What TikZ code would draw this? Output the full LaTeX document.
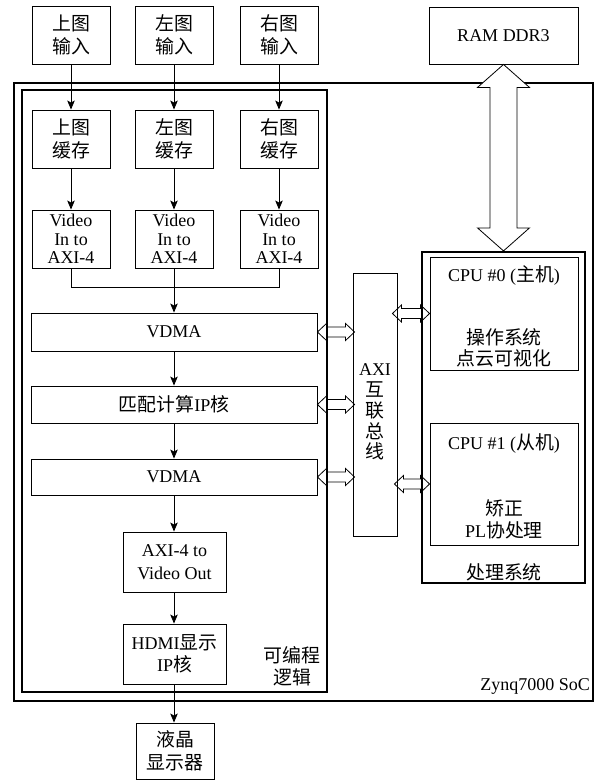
\documentclass[tikz,border=0pt]{standalone}
\usepackage{fontspec}
\setmainfont{Liberation Serif}
\newfontfamily\zhfont{Noto Sans CJK SC}[Scale=1.05]
\newcommand\zh[1]{{\zhfont #1}}
\usetikzlibrary{arrows.meta,calc}
\tikzset{
  box/.style={draw, line width=0.9pt, inner sep=0pt, align=center,
    font=\fontsize{18}{22.5}\selectfont},
  bigbox/.style={draw, line width=2.2pt, inner sep=0pt},
  lbl/.style={inner sep=0pt, align=center, font=\fontsize{18}{22}\selectfont},
  arr/.style={line width=0.9pt, -{Stealth[length=9pt,width=7.5pt,inset=2pt]}},
  conn/.style={line width=0.9pt},
  dblstyle/.style={line width=0.8pt, line join=miter},
}
% left tip, right tip, y reference
\newcommand\dblarrow[3]{%
  \draw[dblstyle] let \p1=(#1), \p2=(#2), \p3=(#3) in
    (\x1,\y3) -- (\x1+9pt,\y3+8.5pt) -- (\x1+9pt,\y3+5pt) -- (\x2-9pt,\y3+5pt)
    -- (\x2-9pt,\y3+8.5pt) -- (\x2,\y3) -- (\x2-9pt,\y3-8.5pt) -- (\x2-9pt,\y3-5pt)
    -- (\x1+9pt,\y3-5pt) -- (\x1+9pt,\y3-8.5pt) -- cycle;}
\begin{document}
\begin{tikzpicture}[x=1pt,y=-1pt]
\useasboundingbox (0,0) rectangle (599,780);
% outer containers
\node[bigbox, line width=2.4pt, minimum width=579pt, minimum height=618pt] (zynq) at (303.5,392) {};
\node[bigbox, line width=2pt, minimum width=305pt, minimum height=602pt] (pl) at (174.5,391) {};
\node[bigbox, minimum width=163pt, minimum height=331pt] (ps) at (503.5,417.5) {};
% inputs
\node[box, minimum width=78pt, minimum height=58pt] (in1) at (71,35) {\zh{上图}\\\zh{输入}};
\node[box, minimum width=78pt, minimum height=58pt] (in2) at (174,35) {\zh{左图}\\\zh{输入}};
\node[box, minimum width=78pt, minimum height=58pt] (in3) at (279,35) {\zh{右图}\\\zh{输入}};
% buffers
\node[box, minimum width=78pt, minimum height=58pt] (buf1) at (71,139) {\zh{上图}\\\zh{缓存}};
\node[box, minimum width=78pt, minimum height=58pt] (buf2) at (174,139) {\zh{左图}\\\zh{缓存}};
\node[box, minimum width=78pt, minimum height=58pt] (buf3) at (279,139) {\zh{右图}\\\zh{缓存}};
% video in
\node[box, font=\fontsize{18}{18.5}\selectfont, minimum width=78pt, minimum height=58pt] (vid1) at (71,239) {Video\\In to\\AXI-4};
\node[box, font=\fontsize{18}{18.5}\selectfont, minimum width=78pt, minimum height=58pt] (vid2) at (174,239) {Video\\In to\\AXI-4};
\node[box, font=\fontsize{18}{18.5}\selectfont, minimum width=78pt, minimum height=58pt] (vid3) at (279,239) {Video\\In to\\AXI-4};
% pipeline
\node[box, minimum width=286pt, minimum height=38pt] (vdma1) at (174,332) {VDMA};
\node[box, minimum width=286pt, minimum height=37pt] (match) at (174,404.5) {\zh{匹配计算}IP\zh{核}};
\node[box, minimum width=286pt, minimum height=36pt] (vdma2) at (174,477) {VDMA};
\node[box, minimum width=103pt, minimum height=60pt] (outv) at (174.5,562) {AXI-4 to\\Video Out};
\node[box, minimum width=103pt, minimum height=60pt] (hdmi) at (174.5,654) {HDMI\zh{显示}\\IP\zh{核}};
\node[box, minimum width=78pt, minimum height=56pt] (lcd) at (175,751) {\zh{液晶}\\\zh{显示器}};
% bus, cpus, ram
\node[box, minimum width=44pt, minimum height=263pt] (bus) at (375,404.5) {};
\node[lbl, font=\fontsize{18}{20.8}\selectfont] (bustxt) at (375,412) {AXI\\\zh{互}\\\zh{联}\\\zh{总}\\\zh{线}};
\node[box, minimum width=148pt, minimum height=113pt] (cpu0) at (504,313.5) {};
\node[lbl] (cpu0t) at (504,275) {CPU \#0 (\zh{主机})};
\node[lbl, font=\fontsize{18}{21}\selectfont] (cpu0d) at (504,347.5) {\zh{操作系统}\\\zh{点云可视化}};
\node[box, minimum width=148pt, minimum height=122pt] (cpu1) at (504,484) {};
\node[lbl] (cpu1t) at (504,443) {CPU \#1 (\zh{从机})};
\node[lbl, font=\fontsize{18}{22}\selectfont] (cpu1d) at (504,519) {\zh{矫正}\\PL\zh{协处理}};
\node[lbl] (pstxt) at (504,572) {\zh{处理系统}};
\node[box, minimum width=149pt, minimum height=57pt] (ram) at (503.5,35.5) {RAM DDR3};
% container labels
\node[lbl] (pltxt) at (292,666) {\zh{可编程}\\\zh{逻辑}};
\node[lbl, anchor=east] (zynqtxt) at (590,686) {Zynq7000 SoC};
% connectors
\foreach \i in {1,2,3} {
  \draw[arr] (in\i.south) -- (buf\i.north);
  \draw[arr] (buf\i.south) -- (vid\i.north);
}
\coordinate (mrg) at (174,287);
\draw[conn] (vid1.south) -- (vid1.south |- mrg) -- (vid3.south |- mrg) -- (vid3.south);
\draw[arr] (vid2.south) -- (vdma1.north);
\draw[arr] (vdma1.south) -- (match.north);
\draw[arr] (match.south) -- (vdma2.north);
\draw[arr] (vdma2.south) -- (vdma2.south |- outv.north);
\draw[arr] (vdma2.south |- outv.south) -- (vdma2.south |- hdmi.north);
\draw[arr] (vdma2.south |- hdmi.south) -- (vdma2.south |- lcd.north);
% double arrows
\dblarrow{vdma1.east}{[xshift=2pt]bus.west}{vdma1.east}
\dblarrow{match.east}{[xshift=2pt]bus.west}{match.east}
\dblarrow{vdma2.east}{[xshift=2pt]bus.west}{vdma2.east}
\dblarrow{[xshift=-5pt]bus.east}{cpu0.west}{cpu0.west}
\dblarrow{[xshift=-3pt]bus.east}{cpu1.west}{cpu1.west}
% big RAM arrow
\draw[dblstyle, fill=white] let \p1=(ram.south), \p2=(ps.north) in
  (\x1,\y1) -- (\x1+26pt,\y1-23pt) -- (\x1+13.5pt,\y1-23pt) -- (\x1+13.5pt,\y2+23pt)
  -- (\x1+26pt,\y2+23pt) -- (\x1,\y2) -- (\x1-26pt,\y2+23pt) -- (\x1-13.5pt,\y2+23pt)
  -- (\x1-13.5pt,\y1-23pt) -- (\x1-26pt,\y1-23pt) -- cycle;
\end{tikzpicture}
\end{document}
